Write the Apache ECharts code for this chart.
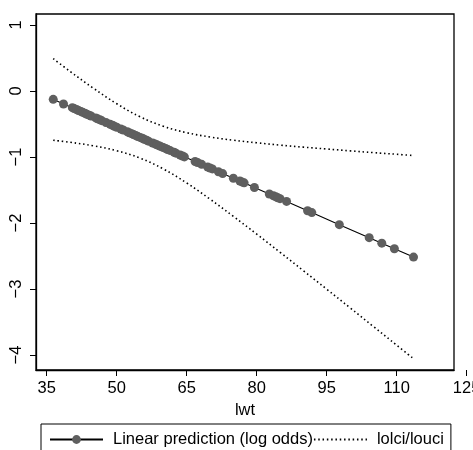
<!DOCTYPE html>
<html>
<head>
<meta charset="utf-8">
<script src="https://cdn.jsdelivr.net/npm/echarts@6/dist/echarts.min.js"></script>
<style>html,body{margin:0;padding:0;background:#fff;}#c{width:473px;height:450px;}</style>
</head>
<body>
<div id="c"></div>
<script>
// lwt (kg) at observed points and the linear prediction (log odds)
const lwtKg = [36.4,38.6,40.5,40.9,41.4,41.8,42.3,42.7,43.2,43.6,44.1,44.5,45.5,45.9,46.4,46.8,47.7,48.6,49.1,49.5,50.0,50.9,51.4,52.3,52.7,53.2,53.6,54.1,54.5,55.0,55.5,55.9,56.4,56.8,57.7,58.2,58.6,59.1,59.5,60.0,60.5,60.9,61.4,62.3,62.7,63.6,64.1,64.5,66.8,67.3,68.2,69.5,70.0,70.5,71.8,72.7,75.0,76.4,76.8,77.3,79.5,82.7,83.6,84.1,84.5,85.0,86.4,90.9,91.8,97.7,104.1,106.8,109.5,113.6];
const predLogOdds = [-0.127,-0.197,-0.253,-0.267,-0.281,-0.296,-0.310,-0.324,-0.338,-0.352,-0.366,-0.380,-0.408,-0.422,-0.436,-0.450,-0.478,-0.506,-0.520,-0.535,-0.549,-0.577,-0.591,-0.619,-0.633,-0.647,-0.661,-0.675,-0.689,-0.703,-0.717,-0.731,-0.745,-0.760,-0.788,-0.802,-0.816,-0.830,-0.844,-0.858,-0.872,-0.886,-0.900,-0.928,-0.942,-0.970,-0.985,-0.999,-1.069,-1.083,-1.111,-1.153,-1.167,-1.181,-1.224,-1.252,-1.322,-1.364,-1.378,-1.392,-1.463,-1.561,-1.589,-1.603,-1.617,-1.631,-1.673,-1.814,-1.842,-2.025,-2.222,-2.306,-2.390,-2.517];
// confidence bounds
const ciX     = [36.4,40,45,50,55,60,65,70,75,80,85,90,95,100,105,110,113.6];
const ciUpper = [0.490,0.297,0.042,-0.193,-0.391,-0.535,-0.632,-0.697,-0.746,-0.785,-0.820,-0.851,-0.879,-0.907,-0.934,-0.959,-0.978];
const ciLower = [-0.746,-0.777,-0.830,-0.905,-1.017,-1.181,-1.394,-1.639,-1.900,-2.169,-2.444,-2.723,-3.003,-3.285,-3.568,-3.851,-4.056];
// ticks
const xTicks = [35,50,65,80,95,110];
const xTickOuter = [125];
const yTicks = [-4,-3,-2,-1,0,1];

const FONT = 'Liberation Sans';
const chart = echarts.init(document.getElementById('c'), null, {renderer:'canvas'});
const zip = (a,b) => a.map((v,i)=>[v,b[i]]);
const minus = v => String(v).replace('-', '\u2212');

chart.setOption({
  animation:false,
  backgroundColor:'#fff',
  textStyle:{fontFamily:FONT},
  grid:[
    {left:36, top:14, width:418, height:356, show:true, borderColor:'#000', borderWidth:1.3, backgroundColor:'#fff', outerBoundsMode:'none', containLabel:false},
    {left:36, top:14, width:430.6, height:356, show:false, outerBoundsMode:'none', containLabel:false}
  ],
  xAxis:[
    {type:'value', gridIndex:0, min:32.71, max:122.27,
     axisLine:{show:true, onZero:false, lineStyle:{color:'#000', width:1.3}},
     axisTick:{show:true, length:6, customValues:xTicks, lineStyle:{color:'#000', width:1}},
     axisLabel:{customValues:xTicks, color:'#000', fontSize:16.5, fontFamily:FONT, margin:10},
     splitLine:{show:false},
     name:'lwt', nameLocation:'middle', nameGap:25,
     nameTextStyle:{color:'#000', fontSize:16.5, fontFamily:FONT}},
    {type:'value', gridIndex:1, min:32.71, max:125,
     axisLine:{show:false, onZero:false},
     axisTick:{show:true, length:6, customValues:xTickOuter, lineStyle:{color:'#000', width:1}},
     axisLabel:{customValues:xTickOuter, showMaxLabel:true, hideOverlap:false, color:'#000', fontSize:16.5, fontFamily:FONT, margin:10},
     splitLine:{show:false}}
  ],
  yAxis:[
    {type:'value', gridIndex:0, min:-4.227, max:1.166,
     axisLine:{show:true, onZero:false, lineStyle:{color:'#000', width:1.3}},
     axisTick:{show:true, length:6, customValues:yTicks, lineStyle:{color:'#000', width:1}},
     axisLabel:{customValues:yTicks, rotate:90, color:'#000', fontSize:16.5, fontFamily:FONT, margin:11, formatter:minus},
     splitLine:{show:false}},
    {type:'value', gridIndex:1, min:-4.227, max:1.166, show:false}
  ],
  legend:{
    left:41, top:424, orient:'horizontal',
    borderColor:'#000', borderWidth:1, padding:[7,7,12,8],
    itemGap:0, itemWidth:53, itemHeight:11,
    textStyle:{color:'#000', fontSize:16.5, fontFamily:FONT, padding:[0,0,0,5]},
    data:[
      {name:'Linear prediction (log odds)'},
      {name:'lolci/louci', itemStyle:{opacity:0}}
    ]
  },
  series:[
    {name:'lolci/louci', type:'line', xAxisIndex:0, yAxisIndex:0, data:zip(ciX,ciUpper),
     smooth:0.4, symbol:'none', itemStyle:{color:'#000'}, lineStyle:{color:'#000', width:1.6, type:[1.5,2.8]}, z:2},
    {name:'lolci/louci', type:'line', xAxisIndex:0, yAxisIndex:0, data:zip(ciX,ciLower),
     smooth:0.4, symbol:'none', itemStyle:{color:'#000'}, lineStyle:{color:'#000', width:1.6, type:[1.5,2.8]}, z:2},
    {name:'Linear prediction (log odds)', type:'line', xAxisIndex:0, yAxisIndex:0, data:zip(lwtKg,predLogOdds),
     symbol:'circle', symbolSize:9, showAllSymbol:true,
     itemStyle:{color:'#5f5f5f'}, lineStyle:{color:'#000', width:1.1}, z:3}
  ]
});
</script>
</body>
</html>
